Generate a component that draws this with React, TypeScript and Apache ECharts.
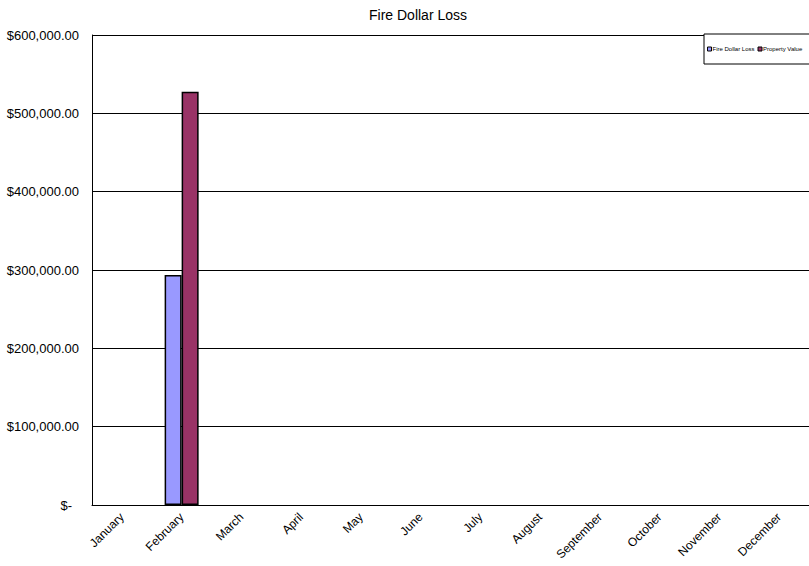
import React, { useEffect, useRef } from "react";
import * as echarts from "echarts";

const months = ["January","February","March","April","May","June","July","August","September","October","November","December"];
const fireDollarLoss = [0, 293500, 0, 0, 0, 0, 0, 0, 0, 0, 0, 0];
const propertyValue = [0, 527500, 0, 0, 0, 0, 0, 0, 0, 0, 0, 0];
const seriesNames = ["Fire Dollar Loss", "Property Value"];

const toBarData = (arr: number[]) =>
  arr.map((v) => ({ value: v, itemStyle: { borderWidth: v === 0 ? 0 : 1.5 } }));

export default function App() {
  const ref = useRef<HTMLDivElement>(null);
  useEffect(() => {
    const chart = echarts.init(ref.current!, null, { renderer: "svg" });
    const font = "'Liberation Sans', Arial, sans-serif";
    chart.setOption({
      animation: false,
      backgroundColor: "#ffffff",
      textStyle: { fontFamily: font },
      title: {
        text: "Fire Dollar Loss",
        left: 413,
        textAlign: "center",
        top: 3,
        textStyle: { fontSize: 14, fontWeight: "normal", color: "#000", fontFamily: font },
      },
      legend: {
        data: seriesNames,
        left: 704,
        top: 34,
        width: 400,
        orient: "horizontal",
        icon: "rect",
        itemWidth: 4,
        itemHeight: 4,
        itemGap: 3,
        padding: [12, 30, 12, 3],
        borderColor: "#000",
        borderWidth: 1,
        backgroundColor: "#fff",
        textStyle: { fontSize: 6, color: "#000", padding: [0, 0, 0, -4] },
        itemStyle: { borderColor: "#000", borderWidth: 1 },
      },
      grid: { left: 92, top: 35, width: 728, height: 470, containLabel: false },
      xAxis: {
        type: "category",
        data: months,
        axisLine: { show: true, lineStyle: { color: "#000", width: 1 } },
        axisTick: { show: false },
        axisLabel: { rotate: 45, fontSize: 12, color: "#000", margin: 10, interval: 0 },
      },
      yAxis: {
        type: "value",
        min: 0,
        max: 600000,
        interval: 100000,
        axisLine: { show: true, lineStyle: { color: "#000", width: 1 } },
        axisTick: { show: false },
        splitLine: { show: true, lineStyle: { color: "#000", width: 1 } },
        axisLabel: {
          fontSize: 13,
          color: "#000",
          margin: 13,
          formatter: (v: number) =>
            v === 0
              ? "{d|$-}"
              : "$" + v.toLocaleString("en-US", { minimumFractionDigits: 2, maximumFractionDigits: 2 }),
          rich: { d: { fontSize: 13, color: "#000", padding: [0, 7, 0, 0] } },
        },
      },
      series: [
        {
          name: seriesNames[0],
          type: "bar",
          data: toBarData(fireDollarLoss),
          barWidth: 17,
          barGap: "0%",
          itemStyle: { color: "#9999ff", borderColor: "#000", borderWidth: 1.5 },
        },
        {
          name: seriesNames[1],
          type: "bar",
          data: toBarData(propertyValue),
          barWidth: 17,
          barGap: "0%",
          itemStyle: { color: "#993366", borderColor: "#000", borderWidth: 1.5 },
        },
      ],
    });
    return () => chart.dispose();
  }, []);
  return <div ref={ref} style={{ width: 809, height: 566, position: "absolute", left: 0, top: 0 }} />;
}
